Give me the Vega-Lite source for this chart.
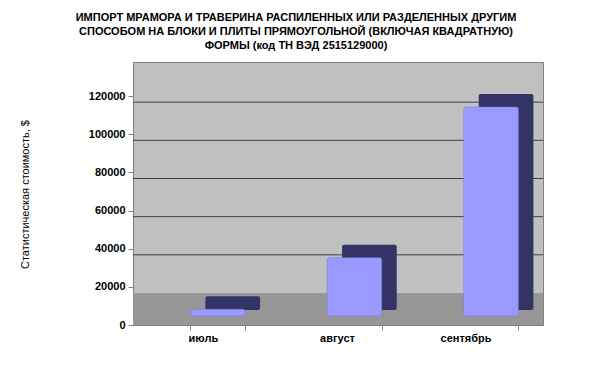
{
  "$schema": "https://vega.github.io/schema/vega-lite/v6.json",
  "autosize": "none",
  "width": 410,
  "height": 263,
  "padding": {"left": 133, "top": 62, "right": 57, "bottom": 41},
  "background": "white",
  "config": {
    "font": "Liberation Sans",
    "view": {"fill": "#C0C0C0", "stroke": "#808080", "strokeWidth": 1}
  },
  "title": {
    "text": ["ИМПОРТ МРАМОРА И ТРАВЕРИНА РАСПИЛЕННЫХ ИЛИ РАЗДЕЛЕННЫХ ДРУГИМ", "СПОСОБОМ НА БЛОКИ И ПЛИТЫ ПРЯМОУГОЛЬНОЙ (ВКЛЮЧАЯ КВАДРАТНУЮ)", "ФОРМЫ (код ТН ВЭД 2515129000)"],
    "font": "Liberation Sans",
    "fontSize": 11,
    "fontWeight": "bold",
    "color": "black",
    "lineHeight": 14,
    "anchor": "middle",
    "dx": -42,
    "offset": 11
  },
  "data": {
    "values": [
      {"month": "июль", "value": 3500},
      {"month": "август", "value": 30500},
      {"month": "сентябрь", "value": 109500}
    ]
  },
  "layer": [
    {
      "mark": {"type": "rect", "color": "#969696"},
      "encoding": {
        "y": {
          "datum": 0, "type": "quantitative",
          "scale": {"domain": [0, 137817], "nice": false, "zero": true},
          "axis": {
            "title": "Статистическая стоимость, $", "titleFont": "Liberation Sans", "titleFontSize": 11,
            "titleFontWeight": "normal", "titleColor": "black", "titleX": -108, "titleY": 132,
            "titleAngle": -90, "titleAlign": "center", "titleBaseline": "middle",
            "values": [0, 20000, 40000, 60000, 80000, 100000, 120000], "format": "d", "labelOverlap": false,
            "labelFont": "Liberation Sans", "labelFontSize": 11, "labelFontWeight": "bold", "labelColor": "black",
            "tickColor": "#808080", "tickSize": 5, "labelPadding": 3, "domain": false,
            "grid": false
          }
        },
        "y2": {"datum": 16500}
      }
    },
    {
      "data": {"values": [{"g": 20000}, {"g": 40000}, {"g": 60000}, {"g": 80000}, {"g": 100000}]},
      "mark": {"type": "rule", "color": "#404040", "strokeWidth": 1, "yOffset": -32},
      "encoding": {
        "y": {"field": "g", "type": "quantitative"}
      }
    },
    {
      "mark": {"type": "bar", "color": "#333366", "xOffset": 15, "x2Offset": 15, "yOffset": -22, "y2Offset": -15, "cornerRadius": 2},
      "encoding": {
        "x": {"field": "month", "type": "nominal", "sort": null},
        "y": {"field": "value", "type": "quantitative"},
        "y2": {"datum": 0}
      }
    },
    {
      "mark": {"type": "bar", "color": "#9999FF", "yOffset": -9, "y2Offset": -9, "cornerRadius": 2, "stroke": "#7777DD", "strokeWidth": 0.5},
      "encoding": {
        "x": {
          "field": "month", "type": "nominal", "sort": null,
          "scale": {"paddingInner": 0.6, "paddingOuter": 0.3, "align": 0.7},
          "axis": {
            "title": null, "labelAngle": 0, "labelFont": "Liberation Sans", "labelFontSize": 11,
            "labelFontWeight": "bold", "labelColor": "black", "tickBand": "extent", "tickColor": "#808080",
            "tickSize": 5, "labelPadding": 8, "domainColor": "#808080"
          }
        },
        "y": {"field": "value", "type": "quantitative"},
        "y2": {"datum": 0}
      }
    }
  ]
}
